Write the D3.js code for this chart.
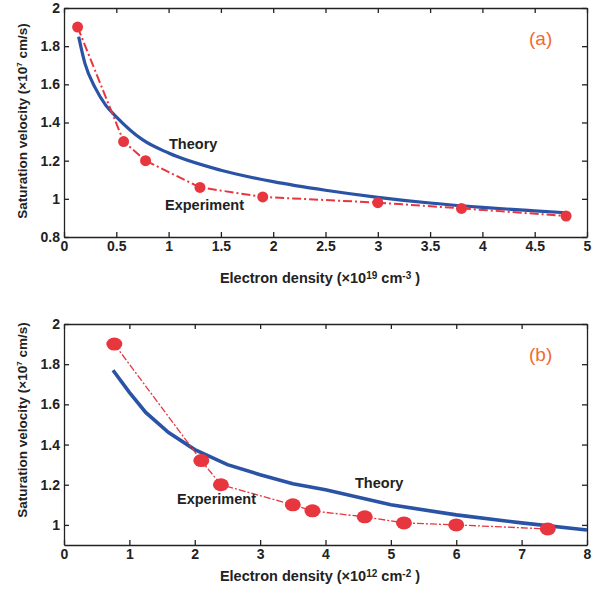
<!DOCTYPE html>
<html>
<head>
<meta charset="utf-8">
<script src="https://cdn.jsdelivr.net/npm/d3@7"></script>
<style>
  body { margin: 0; background: #fff; }
  svg text { font-family: "Liberation Sans", Arial, sans-serif; }
</style>
</head>
<body>
<svg id="chart" width="607" height="590"></svg>
<script>
// panel (a): bulk, x in 1e19 cm^-3
var theoryA_x = [0.14, 0.2, 0.3, 0.4, 0.5, 0.75, 1, 1.5, 2, 2.5, 3, 3.5, 4, 4.5, 4.8];
var theoryA_y = [1.85, 1.71, 1.58, 1.49, 1.43, 1.31, 1.24, 1.15, 1.09, 1.045, 1.008, 0.978, 0.955, 0.937, 0.927];
var expA_x = [0.13, 0.57, 0.78, 1.3, 1.9, 3.0, 3.8, 4.8];
var expA_y = [1.9, 1.3, 1.2, 1.06, 1.01, 0.98, 0.95, 0.91];

// panel (b): 2D, x in 1e12 cm^-2
var theoryB_x = [0.75, 1, 1.25, 1.6, 2, 2.5, 3, 3.5, 4, 5, 6, 7, 8];
var theoryB_y = [1.77, 1.66, 1.56, 1.46, 1.375, 1.30, 1.25, 1.205, 1.175, 1.10, 1.05, 1.01, 0.975];
var expB_x = [0.77, 2.1, 2.4, 3.5, 3.8, 4.6, 5.2, 6.0, 7.4];
var expB_y = [1.9, 1.32, 1.2, 1.1, 1.07, 1.04, 1.01, 1.0, 0.98];

var ticksA_x = [0, 0.5, 1, 1.5, 2, 2.5, 3, 3.5, 4, 4.5, 5];
var ticksA_y = [0.8, 1, 1.2, 1.4, 1.6, 1.8, 2];
var ticksB_x = [0, 1, 2, 3, 4, 5, 6, 7, 8];
var ticksB_y = [1, 1.2, 1.4, 1.6, 1.8, 2];

var blue = "#2a53a5", red = "#e8363f", orange = "#f26a30";
var svg = d3.select("#chart");

function zipPts(xs, ys) { return xs.map((x, i) => [x, ys[i]]); }

function panel(opt) {
    var x = d3.scaleLinear().domain(opt.xdom).range([64, 587]);
    var y = d3.scaleLinear().domain(opt.ydom).range([opt.bottom, opt.top]);
    var g = svg.append("g");

    var fmt = d => String(d);
    var bottomAx = d3.axisBottom(x).tickValues(opt.xticks).tickFormat(fmt).tickSizeInner(-5).tickSizeOuter(0).tickPadding(4);
    var leftAx = d3.axisLeft(y).tickValues(opt.yticks).tickFormat(fmt).tickSizeInner(-5).tickSizeOuter(0).tickPadding(4);
    var topAx = d3.axisTop(x).tickValues(opt.xticks).tickFormat("").tickSizeInner(-5).tickSizeOuter(0);
    var rightAx = d3.axisRight(y).tickValues(opt.yticks).tickFormat("").tickSizeInner(-5).tickSizeOuter(0);

    [[bottomAx, "translate(0," + opt.bottom + ")"], [leftAx, "translate(64,0)"],
     [topAx, "translate(0," + opt.top + ")"], [rightAx, "translate(587,0)"]].forEach(function (a) {
        var ax = g.append("g").attr("transform", a[1]).call(a[0]);
        ax.selectAll("path, line").attr("stroke", "#222").attr("stroke-width", 1.3);
        ax.selectAll("text").attr("fill", "#222").style("font-size", "14px").style("font-weight", "bold");
    });

    // theory curve
    g.append("path")
        .datum(zipPts(opt.tx, opt.ty))
        .attr("fill", "none").attr("stroke", blue).attr("stroke-width", opt.tw)
        .attr("d", d3.line().x(d => x(d[0])).y(d => y(d[1])).curve(opt.curve));

    // experiment
    var ep = zipPts(opt.ex, opt.ey);
    g.append("path")
        .datum(ep)
        .attr("fill", "none").attr("stroke", red).attr("stroke-width", opt.ew)
        .attr("stroke-dasharray", opt.dash)
        .attr("d", d3.line().x(d => x(d[0])).y(d => y(d[1])));
    g.selectAll("ellipse.pt").data(ep).enter().append("ellipse")
        .attr("class", "pt")
        .attr("cx", d => x(d[0])).attr("cy", d => y(d[1]))
        .attr("rx", opt.rx).attr("ry", opt.ry)
        .attr("fill", red);

    // annotations
    g.append("text").attr("x", opt.theoryPos[0]).attr("y", opt.theoryPos[1])
        .attr("fill", "#222").style("font-size", "14.5px").style("font-weight", "bold").text("Theory");
    g.append("text").attr("x", opt.expPos[0]).attr("y", opt.expPos[1])
        .attr("fill", "#222").style("font-size", "14.5px").style("font-weight", "bold").text("Experiment");
    g.append("text").attr("x", 529).attr("y", opt.top + 37)
        .attr("fill", orange).style("font-size", "19px").text(opt.tag);

    // axis titles
    var yl = g.append("text")
        .attr("transform", "translate(27," + opt.ylabY + ") rotate(-90)")
        .attr("text-anchor", "middle").attr("fill", "#222")
        .style("font-size", "13.5px").style("font-weight", "bold");
    yl.append("tspan").text("Saturation velocity (×10");
    yl.append("tspan").attr("dy", -5).style("font-size", "8px").text("7");
    yl.append("tspan").attr("dy", 5).text(" cm/s)");

    var xl = g.append("text")
        .attr("x", 320).attr("y", opt.xlabY)
        .attr("text-anchor", "middle").attr("fill", "#222")
        .style("font-size", "14.5px").style("font-weight", "bold");
    xl.append("tspan").text("Electron density (×10");
    xl.append("tspan").attr("dy", -4).style("font-size", "10px").text(opt.exp1);
    xl.append("tspan").attr("dy", 4).text(" cm");
    xl.append("tspan").attr("dy", -4).style("font-size", "10px").text(opt.exp2);
    xl.append("tspan").attr("dy", 4).text(" )");
}

panel({
    xdom: [0, 5], ydom: [0.8, 2], top: 8, bottom: 237,
    xticks: ticksA_x, yticks: ticksA_y,
    tx: theoryA_x, ty: theoryA_y, ex: expA_x, ey: expA_y,
    tw: 3.2, ew: 2, dash: "9,3,2,3", rx: 5.5, ry: 5.5,
    curve: d3.curveMonotoneX,
    theoryPos: [169, 149], expPos: [165, 210], tag: "(a)",
    ylabY: 121, xlabY: 283, exp1: "19", exp2: "-3"
});

panel({
    xdom: [0, 8], ydom: [0.9, 2], top: 324, bottom: 545,
    xticks: ticksB_x, yticks: ticksB_y,
    tx: theoryB_x, ty: theoryB_y, ex: expB_x, ey: expB_y,
    tw: 3.6, ew: 1.3, dash: "7,2,2,2", rx: 8, ry: 6.5,
    curve: d3.curveLinear,
    theoryPos: [355, 488], expPos: [177, 504], tag: "(b)",
    ylabY: 420, xlabY: 581, exp1: "12", exp2: "-2"
});
</script>
</body>
</html>
